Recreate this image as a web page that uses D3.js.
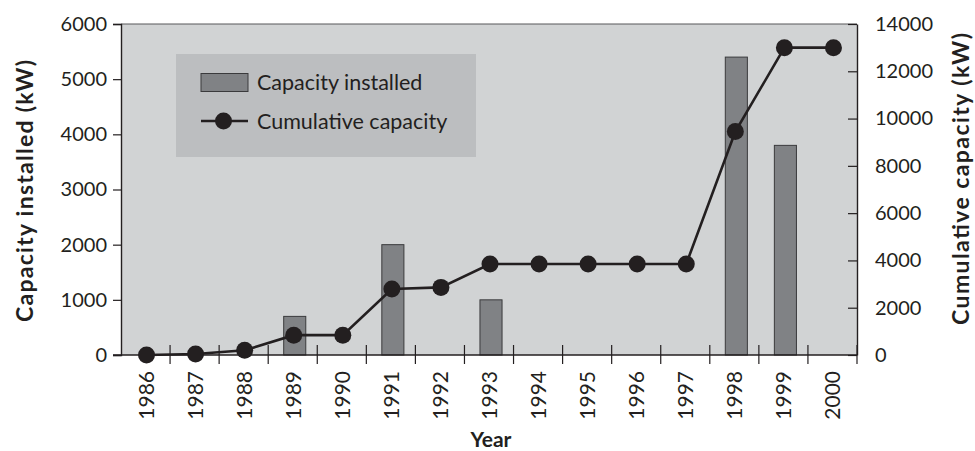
<!DOCTYPE html>
<html>
<head>
<meta charset="utf-8">
<script src="https://cdn.jsdelivr.net/npm/d3@7"></script>
<style>
  html, body { margin: 0; padding: 0; background: #ffffff; }
  svg { display: block; }
  text { font-family: Lato, "Open Sans", sans-serif; fill: #231f20; }
</style>
</head>
<body>
<svg id="chart" width="975" height="451"></svg>
<script>
// Annual installed capacity and running total, 1986–2000
const years = [1986, 1987, 1988, 1989, 1990, 1991, 1992, 1993, 1994, 1995, 1996, 1997, 1998, 1999, 2000];
const installed = [0, 0, 0, 700, 0, 2000, 0, 1000, 0, 0, 0, 0, 5400, 3800, 0];
const cumulative = [0, 40, 200, 840, 840, 2790, 2860, 3850, 3850, 3850, 3850, 3850, 9450, 13000, 13000];
const leftTicks = [0, 1000, 2000, 3000, 4000, 5000, 6000];
const rightTicks = [0, 2000, 4000, 6000, 8000, 10000, 12000, 14000];
const legendLabels = ["Capacity installed", "Cumulative capacity"];

const ink = "#231f20";
const plotFill = "#d1d3d4";
const legendFill = "#bcbec0";
const barFill = "#808285";

const svg = d3.select("#chart");
const m = { left: 121, right: 857, top: 24, bottom: 355 };

const x = d3.scaleBand().domain(years).range([m.left, m.right]).paddingInner(0).paddingOuter(0);
const yL = d3.scaleLinear().domain([0, 6000]).range([m.bottom, m.top]);
const yR = d3.scaleLinear().domain([0, 14000]).range([m.bottom, m.top]);

// plot background
svg.append("rect")
  .attr("x", m.left).attr("y", m.top)
  .attr("width", m.right - m.left).attr("height", m.bottom - m.top)
  .attr("fill", plotFill);

// top frame line
svg.append("line")
  .attr("x1", m.left).attr("x2", m.right)
  .attr("y1", m.top).attr("y2", m.top)
  .attr("stroke", "#58595b").attr("stroke-width", 1.2);

// bars
const barW = x.bandwidth() * 0.45;
svg.append("g").selectAll("rect")
  .data(years.map((yr, i) => ({ yr, v: installed[i] })).filter(d => d.v > 0))
  .join("rect")
  .attr("x", d => x(d.yr) + x.bandwidth() / 2 - barW / 2 + 2)
  .attr("y", d => yL(d.v))
  .attr("width", barW)
  .attr("height", d => yL(0) - yL(d.v))
  .attr("fill", barFill)
  .attr("stroke", "#3a3a3c")
  .attr("stroke-width", 1);

// left axis
const gL = svg.append("g").attr("transform", `translate(${m.left},0)`)
  .call(d3.axisLeft(yL).tickValues(leftTicks).tickFormat(d3.format("d")).tickSize(8).tickPadding(6));
gL.select(".domain").attr("stroke", ink).attr("stroke-width", 1.4);
gL.selectAll(".tick line").attr("stroke", ink).attr("stroke-width", 1.2);
gL.selectAll(".tick text").attr("font-size", 20).attr("fill", ink)
  .style("font-family", "Lato, sans-serif");

// right axis (ticks point inward)
const gR = svg.append("g").attr("transform", `translate(${m.right},0)`)
  .call(d3.axisRight(yR).tickValues(rightTicks).tickFormat(d3.format("d")).tickSize(0).tickPadding(18));
gR.select(".domain").attr("stroke", ink).attr("stroke-width", 1.4);
gR.selectAll(".tick").append("line")
  .attr("x1", -9).attr("x2", 0).attr("stroke", ink).attr("stroke-width", 1.2);
gR.selectAll(".tick text").attr("font-size", 20).attr("fill", ink)
  .style("font-family", "Lato, sans-serif");

// bottom axis: ticks at category boundaries, crossing the axis line
const gB = svg.append("g").attr("transform", `translate(0,${m.bottom})`);
gB.append("line").attr("x1", m.left - 8).attr("x2", m.right).attr("y1", 0).attr("y2", 0)
  .attr("stroke", ink).attr("stroke-width", 1.4);
const bounds = years.slice(1).map(yr => x(yr)).concat([m.right]);
gB.selectAll("line.tk").data(bounds).join("line").attr("class", "tk")
  .attr("x1", d => d).attr("x2", d => d).attr("y1", -10).attr("y2", 9)
  .attr("stroke", ink).attr("stroke-width", 1.2);
gB.selectAll("text.yr").data(years).join("text").attr("class", "yr")
  .attr("transform", d => `translate(${x(d) + x.bandwidth() / 2 + 8},16) rotate(-90)`)
  .attr("text-anchor", "end")
  .attr("font-size", 21)
  .text(d => d);

// cumulative line with markers
const line = d3.line()
  .x((d, i) => x(years[i]) + x.bandwidth() / 2 + 1)
  .y(d => yR(d));
svg.append("path").datum(cumulative)
  .attr("d", line).attr("fill", "none")
  .attr("stroke", ink).attr("stroke-width", 2.6);
svg.append("g").selectAll("circle").data(cumulative).join("circle")
  .attr("cx", (d, i) => x(years[i]) + x.bandwidth() / 2 + 1)
  .attr("cy", d => yR(d))
  .attr("r", 8.5)
  .attr("fill", ink);

// axis titles
svg.append("text")
  .attr("transform", "translate(33,191) rotate(-90)")
  .attr("text-anchor", "middle").attr("font-size", 23).attr("font-weight", 700)
  .attr("textLength", 262).attr("lengthAdjust", "spacing")
  .text("Capacity installed (kW)");
svg.append("text")
  .attr("transform", "translate(969,179) rotate(-90)")
  .attr("text-anchor", "middle").attr("font-size", 23).attr("font-weight", 700)
  .attr("textLength", 292).attr("lengthAdjust", "spacing")
  .text("Cumulative capacity (kW)");
svg.append("text")
  .attr("x", 491).attr("y", 447)
  .attr("text-anchor", "middle").attr("font-size", 21).attr("font-weight", 700)
  .text("Year");

// legend
const lg = svg.append("g");
lg.append("rect").attr("x", 176).attr("y", 54).attr("width", 300).attr("height", 103)
  .attr("fill", legendFill);
lg.append("rect").attr("x", 201).attr("y", 73.5).attr("width", 47).attr("height", 18)
  .attr("fill", barFill).attr("stroke", "#3a3a3c").attr("stroke-width", 1);
lg.append("line").attr("x1", 201).attr("x2", 248).attr("y1", 121).attr("y2", 121)
  .attr("stroke", ink).attr("stroke-width", 2.6);
lg.append("circle").attr("cx", 223.5).attr("cy", 121).attr("r", 8.5).attr("fill", ink);
lg.selectAll("text").data(legendLabels).join("text")
  .attr("x", 257).attr("y", (d, i) => 90 + i * 39)
  .attr("font-size", 21.5)
  .text(d => d);
</script>
</body>
</html>
